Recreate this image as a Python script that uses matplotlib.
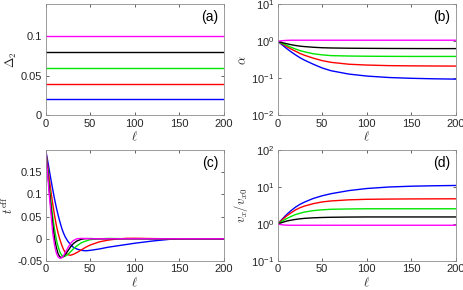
import matplotlib
matplotlib.use("Agg")
import matplotlib.pyplot as plt

plt.rcParams['font.family'] = ['Liberation Sans', 'DejaVu Sans']
plt.rcParams['mathtext.fontset'] = 'cm'

colors = ['#0000ff', '#ff0000', '#00e600', '#000000', '#ff00ff']

# (a) Delta_2 constant values
ell_a = [0, 200]
delta2 = [0.02, 0.04, 0.06, 0.08, 0.1]

# (b) alpha vs ell
ell_b = [0, 5, 10, 15, 20, 25, 30, 40, 50, 60, 80, 100, 125, 150, 175, 200]
alpha_blue = [1.0, 0.80, 0.64, 0.52, 0.43, 0.36, 0.31, 0.24, 0.19, 0.16, 0.13, 0.115, 0.105, 0.10, 0.097, 0.095]
alpha_red = [1.0, 0.85, 0.72, 0.62, 0.54, 0.47, 0.42, 0.35, 0.30, 0.27, 0.24, 0.228, 0.22, 0.217, 0.215, 0.214]
alpha_green = [1.0, 0.88, 0.78, 0.69, 0.62, 0.56, 0.52, 0.46, 0.43, 0.41, 0.40, 0.395, 0.392, 0.39, 0.39, 0.39]
alpha_black = [1.0, 0.92, 0.86, 0.81, 0.77, 0.74, 0.72, 0.69, 0.67, 0.66, 0.65, 0.645, 0.64, 0.637, 0.635, 0.635]
alpha_magenta = [1.0, 1.04, 1.06, 1.07, 1.07, 1.07, 1.07, 1.07, 1.07, 1.07, 1.07, 1.07, 1.07, 1.07, 1.07, 1.07]

# (c) t_eff vs ell
ell_c = [0, 2, 4, 6, 8, 10, 12, 14, 16, 18, 20, 22, 25, 28, 31, 35, 40, 45, 50, 60, 70, 80, 90, 100, 120, 140, 160, 180, 200]
t_blue = [0.2, 0.178, 0.155, 0.132, 0.11, 0.089, 0.07, 0.053, 0.038, 0.024, 0.013, 0.004, -0.006, -0.013, -0.019, -0.023, -0.026, -0.027, -0.026, -0.023, -0.019, -0.016, -0.013, -0.010, -0.005, -0.001, 0.0, 0.0, 0.0]
t_red = [0.2, 0.168, 0.135, 0.105, 0.077, 0.052, 0.03, 0.012, -0.002, -0.014, -0.024, -0.031, -0.036, -0.037, -0.035, -0.031, -0.025, -0.019, -0.014, -0.007, -0.003, -0.0005, 0.001, 0.0012, 0.0005, 0.0, 0.0, 0.0, 0.0]
t_green = [0.2, 0.16, 0.12, 0.082, 0.048, 0.02, -0.002, -0.018, -0.03, -0.037, -0.04, -0.039, -0.035, -0.029, -0.023, -0.016, -0.009, -0.005, -0.002, 0.0, 0.0008, 0.0005, 0.0, 0.0, 0.0, 0.0, 0.0, 0.0, 0.0]
t_black = [0.2, 0.155, 0.11, 0.068, 0.03, 0.0, -0.02, -0.034, -0.041, -0.042, -0.04, -0.035, -0.027, -0.018, -0.011, -0.005, -0.001, 0.0005, 0.0005, 0.0, 0.0, 0.0, 0.0, 0.0, 0.0, 0.0, 0.0, 0.0, 0.0]
t_magenta = [0.2, 0.15, 0.10, 0.055, 0.012, -0.015, -0.032, -0.041, -0.044, -0.043, -0.038, -0.031, -0.02, -0.01, -0.004, 0.0, 0.001, 0.0005, 0.0, 0.0, 0.0, 0.0, 0.0, 0.0, 0.0, 0.0, 0.0, 0.0, 0.0]

# (d) v_x / v_x0 vs ell
ell_d = [0, 5, 10, 15, 20, 25, 30, 40, 50, 60, 80, 100, 125, 150, 175, 200]
v_blue = [1.0, 1.35, 1.8, 2.3, 2.85, 3.4, 3.9, 4.9, 5.8, 6.6, 8.0, 9.1, 10.0, 10.5, 10.8, 11.0]
v_red = [1.0, 1.3, 1.65, 2.0, 2.4, 2.75, 3.05, 3.55, 3.95, 4.2, 4.5, 4.65, 4.72, 4.76, 4.78, 4.8]
v_green = [1.0, 1.2, 1.4, 1.6, 1.8, 1.95, 2.1, 2.3, 2.42, 2.5, 2.55, 2.58, 2.58, 2.58, 2.58, 2.58]
v_black = [1.0, 1.1, 1.2, 1.27, 1.33, 1.38, 1.42, 1.47, 1.5, 1.52, 1.54, 1.55, 1.55, 1.55, 1.55, 1.55]
v_magenta = [1.0, 0.95, 0.93, 0.925, 0.925, 0.925, 0.925, 0.925, 0.925, 0.925, 0.925, 0.925, 0.925, 0.925, 0.925, 0.925]

fig = plt.figure(figsize=(4.64, 2.9), dpi=100)
W, H = 464, 290
def ax_at(x0, y0, x1, y1):
    return fig.add_axes([x0 / W, 1 - y1 / H, (x1 - x0) / W, (y1 - y0) / H])

axa = ax_at(45.7, 4.3, 223.7, 115.3)
axb = ax_at(277.7, 4.3, 455.7, 115.3)
axc = ax_at(45.7, 150, 223.7, 261)
axd = ax_at(277.7, 150, 455.7, 261)

lw = 1.0
for v, c in zip(delta2, colors):
    axa.plot(ell_a, [v, v], color=c, lw=lw)
axa.set_ylim(0, 0.14)
axa.set_yticks([0, 0.05, 0.1])
axa.set_yticklabels(['0', '0.05', '0.1'])

for y, c in zip([alpha_blue, alpha_red, alpha_green, alpha_black, alpha_magenta], colors):
    axb.plot(ell_b, y, color=c, lw=lw)
axb.set_yscale('log')
axb.set_ylim(1e-2, 1e1)
axb.set_yticks([1e-2, 1e-1, 1e0, 1e1])
axb.set_yticklabels(['$\\mathregular{10^{-2}}$', '$\\mathregular{10^{-1}}$', '$\\mathregular{10^{0}}$', '$\\mathregular{10^{1}}$'])

for y, c in zip([t_blue, t_red, t_green, t_black, t_magenta], colors):
    axc.plot(ell_c, y, color=c, lw=lw)
axc.set_ylim(-0.05, 0.2)
axc.set_yticks([-0.05, 0, 0.05, 0.1, 0.15])
axc.set_yticklabels(['-0.05', '0', '0.05', '0.1', '0.15'])

for y, c in zip([v_blue, v_red, v_green, v_black, v_magenta], colors):
    axd.plot(ell_d, y, color=c, lw=lw)
axd.set_yscale('log')
axd.set_ylim(1e-1, 1e2)
axd.set_yticks([1e-1, 1e0, 1e1, 1e2])
axd.set_yticklabels(['$\\mathregular{10^{-1}}$', '$\\mathregular{10^{0}}$', '$\\mathregular{10^{1}}$', '$\\mathregular{10^{2}}$'])

labels = ['(a)', '(b)', '(c)', '(d)']
ylabels = ['$\\Delta_2$', '$\\alpha$', '$t^{\\rm eff}$', '$v_x/v_{x0}$']
gray = '#262626'
for ax, lab, yl in zip([axa, axb, axc, axd], labels, ylabels):
    ax.set_xlim(0, 200)
    ax.set_xticks([0, 50, 100, 150, 200])
    ax.minorticks_off()
    ax.tick_params(direction='in', length=2.5, width=0.5, top=True, right=True,
                   labelsize=8, colors=gray, pad=2.5)
    for s in ax.spines.values():
        s.set_color('#8c8c8c')
        s.set_linewidth(0.6)
    ax.set_xlabel('$\\ell$', fontsize=9, color=gray, labelpad=1)
    ax.set_ylabel(yl, fontsize=9, color=gray, labelpad=1)
    ax.text(0.97, 0.95, lab, transform=ax.transAxes, ha='right', va='top', fontsize=10)

fig.savefig('out.png', dpi=100)
